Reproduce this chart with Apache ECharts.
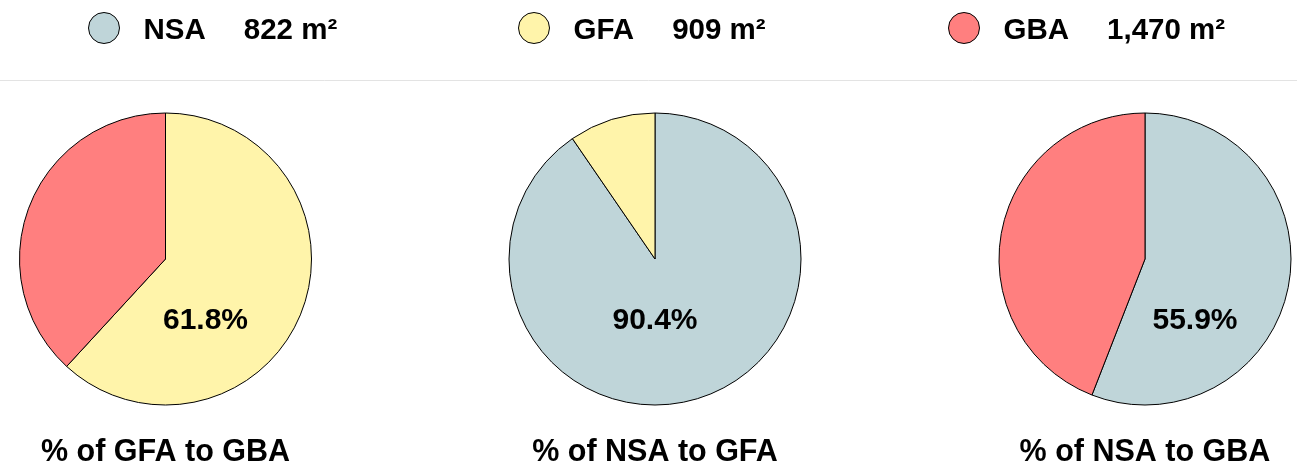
<!DOCTYPE html>
<html>
<head>
<meta charset="utf-8">
<script src="https://cdn.jsdelivr.net/npm/echarts@6/dist/echarts.min.js"></script>
<style>
html,body{margin:0;padding:0;background:#fff;}
#main{width:1297px;height:472px;}
</style>
</head>
<body>
<div id="main"></div>
<script>
// ---- data ----
const areaNames = ['NSA', 'GFA', 'GBA'];
const areaValues = [822, 909, 1470];
const areaColors = ['#BFD5D9', '#FFF4AA', '#FF7F7F'];
// each pie: [part, whole]
const pieParts = ['GFA', 'NSA', 'NSA'];
const pieWholes = ['GBA', 'GFA', 'GBA'];
const pieTitles = ['% of GFA to GBA', '% of NSA to GFA', '% of NSA to GBA'];

const fontFam = '"Liberation Sans", Arial, sans-serif';
const valOf = n => areaValues[areaNames.indexOf(n)];
const colOf = n => areaColors[areaNames.indexOf(n)];
const fmt = v => v.toLocaleString('en-US');

const centersX = [165.5, 655, 1145];
const centerY = 259;
const labelDX = [40, 0, 50];

const series = pieParts.map((p, i) => {
  const w = pieWholes[i];
  return {
    type: 'pie',
    center: [centersX[i], centerY],
    radius: 146,
    startAngle: 90,
    clockwise: true,
    silent: true,
    z: 2,
    label: { show: false },
    labelLine: { show: false },
    emphasis: { disabled: true },
    itemStyle: { borderColor: '#000', borderWidth: 1 },
    data: [
      { name: p, value: valOf(p), itemStyle: { color: colOf(p) } },
      { name: w, value: valOf(w) - valOf(p), itemStyle: { color: colOf(w) } }
    ]
  };
});

const legendLeft = [88, 518, 948];
const legends = areaNames.map((n, i) => ({
  data: [n],
  left: legendLeft[i],
  top: 12,
  padding: 0,
  icon: 'circle',
  itemWidth: 31,
  itemHeight: 31,
  selectedMode: false,
  itemStyle: { borderColor: '#000', borderWidth: 1 },
  formatter: name => `{n|${name}}{v|${fmt(valOf(name))} m²}`,
  textStyle: {
    rich: {
      n: { fontSize: 29.5, fontWeight: 'bold', fontFamily: fontFam, color: '#000', padding: [5, 0, 0, 19] },
      v: { fontSize: 29.5, fontWeight: 'bold', fontFamily: fontFam, color: '#000', padding: [5, 0, 0, 38] }
    }
  }
}));

const graphics = [
  { type: 'line', z: 1, shape: { x1: 0, y1: 80.5, x2: 1297, y2: 80.5 }, style: { stroke: '#e3e3e3', lineWidth: 1 }, silent: true }
];
pieParts.forEach((p, i) => {
  const pct = (valOf(p) / valOf(pieWholes[i]) * 100).toFixed(1) + '%';
  graphics.push({
    type: 'text', x: centersX[i] + labelDX[i], y: 321, z: 100, silent: true,
    style: { text: pct, font: 'bold 30px ' + fontFam, fill: '#000', textAlign: 'center', textVerticalAlign: 'middle' }
  });
  graphics.push({
    type: 'text', x: centersX[i], y: 453, z: 100, silent: true,
    style: { text: pieTitles[i], font: 'bold 30.5px ' + fontFam, fill: '#000', textAlign: 'center', textVerticalAlign: 'middle' }
  });
});

const chart = echarts.init(document.getElementById('main'));
chart.setOption({
  animation: false,
  legend: legends,
  series: series,
  graphic: { elements: graphics }
});
</script>
</body>
</html>
